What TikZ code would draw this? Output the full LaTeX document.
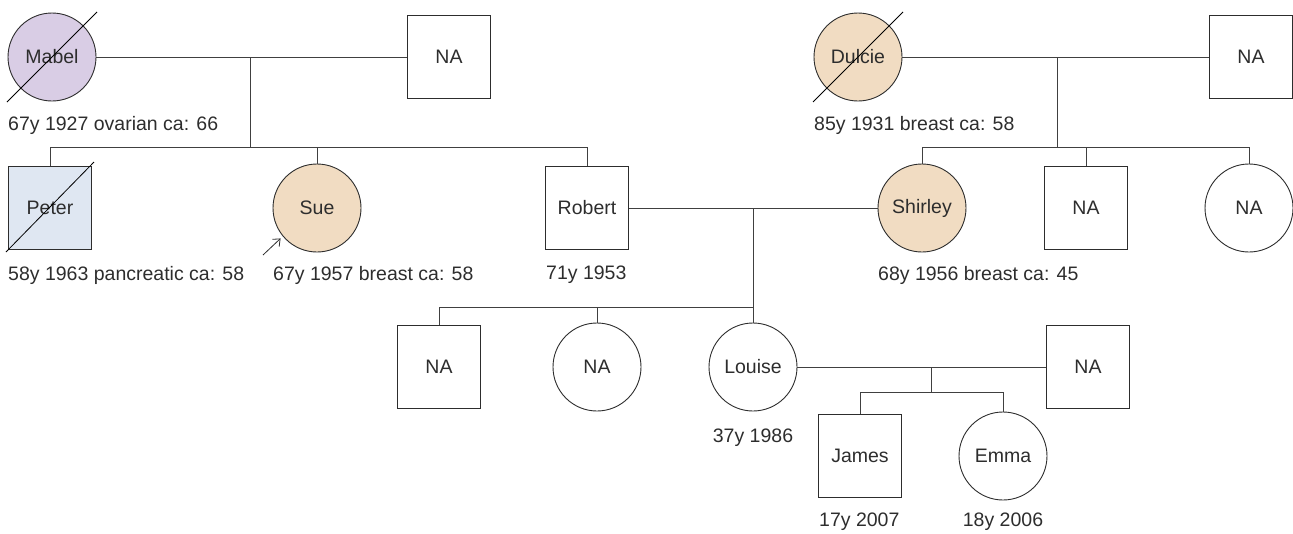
\documentclass[tikz,border=0pt]{standalone}
\usepackage{fontspec}
\setmainfont{Liberation Sans}
\usetikzlibrary{arrows.meta, positioning, calc}
\definecolor{ovarian}{RGB}{217,205,229}
\definecolor{pancreatic}{RGB}{223,231,242}
\definecolor{breast}{RGB}{241,220,194}
\definecolor{ink}{RGB}{45,45,45}
\tikzset{
  male/.style    = {draw=ink, rectangle, minimum size=83pt, inner sep=0pt,
                    line width=0.9pt, text=ink, font=\fontsize{19.5}{22}\selectfont},
  female/.style  = {draw=ink, circle, minimum size=88pt, inner sep=0pt,
                    line width=0.9pt, text=ink, font=\fontsize{19.5}{22}\selectfont},
  note/.style    = {anchor=west, inner sep=0pt, text=ink,
                    font=\fontsize{19.5}{22}\selectfont},
  link/.style    = {draw=black!75, line width=0.9pt},
  dead/.style    = {draw=black, line width=0.8pt},
  proband/.style = {-{Straight Barb[length=6pt, width=10pt]}, draw=ink, line width=0.8pt}
}

\begin{document}
\begin{tikzpicture}[x=1pt, y=-1pt]
\useasboundingbox (0,0) rectangle (1293,533);

% grandparents
\node[female, fill=ovarian] at (  52, 57) (mabel)  {Mabel};
\node[male]                 at ( 449, 57) (mna)    {NA};
\node[female, fill=breast]  at ( 858, 57) (dulcie) {Dulcie};
\node[male]                 at (1251, 57) (dna)    {NA};

% parents and siblings
\node[male, fill=pancreatic] at (  50,208) (peter)   {Peter};
\node[female, fill=breast]   at ( 317,208) (sue)     {Sue};
\node[male]                  at ( 587,208) (robert)  {Robert};
\node[female, fill=breast]   at ( 922,208) (shirley) {Shirley};
\node[male]                  at (1086,208) (sbro)    {NA};
\node[female]                at (1249,208) (ssis)    {NA};

% children
\node[male]                 at ( 439,367) (rson)    {NA};
\node[female]               at ( 597,367) (rdau)    {NA};
\node[female]               at ( 753,367) (louise)  {Louise};
\node[male]                 at (1088,367) (lna)     {NA};

% grandchildren
\node[male]                 at ( 860,456) (james)   {James};
\node[female]               at (1003,456) (emma)    {Emma};

% notes
\node[note] at (   8,125) (mabel-n)   {67y 1927 ovarian ca: 66};
\node[note] at ( 814,125) (dulcie-n)  {85y 1931 breast ca: 58};
\node[note] at (   8,275) (peter-n)   {58y 1963 pancreatic ca: 58};
\node[note] at ( 273,275) (sue-n)     {67y 1957 breast ca: 58};
\node[note] at ( 546,275) (robert-n)  {71y 1953};
\node[note] at ( 878,275) (shirley-n) {68y 1956 breast ca: 45};
\node[note, anchor=center] at ( 753,438) (louise-n) {37y 1986};
\node[note] at ( 819,522) (james-n)   {17y 2007};
\node[note, anchor=center] at (1003,522) (emma-n)   {18y 2006};

% couples and sibships
\coordinate (mj) at ( 250, 57);  \coordinate (ms) at ( 250,147);
\coordinate (dj) at (1057, 57);  \coordinate (ds) at (1057,147);
\coordinate (rj) at ( 753,208);  \coordinate (rs) at ( 753,307);
\coordinate (lj) at ( 931,367);  \coordinate (ls) at ( 931,392);

\draw[link] (mabel.east) -- (mna.west);
\draw[link] (mj) -- (ms);
\draw[link] (peter.north) -- (peter.north |- ms) -- (robert.north |- ms) -- (robert.north);
\draw[link] (sue.north) -- (sue.north |- ms);

\draw[link] (dulcie.east) -- (dna.west);
\draw[link] (dj) -- (ds);
\draw[link] (shirley.north) -- (shirley.north |- ds) -- (ssis.north |- ds) -- (ssis.north);
\draw[link] (sbro.north) -- (sbro.north |- ds);

\draw[link] (robert.east) -- (shirley.west);
\draw[link] (rj) -- (louise.north);
\draw[link] (rson.north) -- (rson.north |- rs) -- (rs);
\draw[link] (rdau.north) -- (rdau.north |- rs);

\draw[link] (louise.east) -- (lna.west);
\draw[link] (lj) -- (ls);
\draw[link] (james.north) -- (james.north |- ls) -- (emma.north |- ls) -- (emma.north);

% deceased
\draw[dead] ($(mabel)+(-45,45)$)  -- ($(mabel)+(45,-45)$);
\draw[dead] ($(dulcie)+(-45,45)$) -- ($(dulcie)+(45,-45)$);
\draw[dead] ($(peter)+(-44,44)$)  -- ($(peter)+(44,-46)$);

% proband
\coordinate (pb) at (263,255);
\draw[proband] (pb) -- ([xshift=-5pt, yshift=1pt]sue.225);
\end{tikzpicture}
\end{document}
